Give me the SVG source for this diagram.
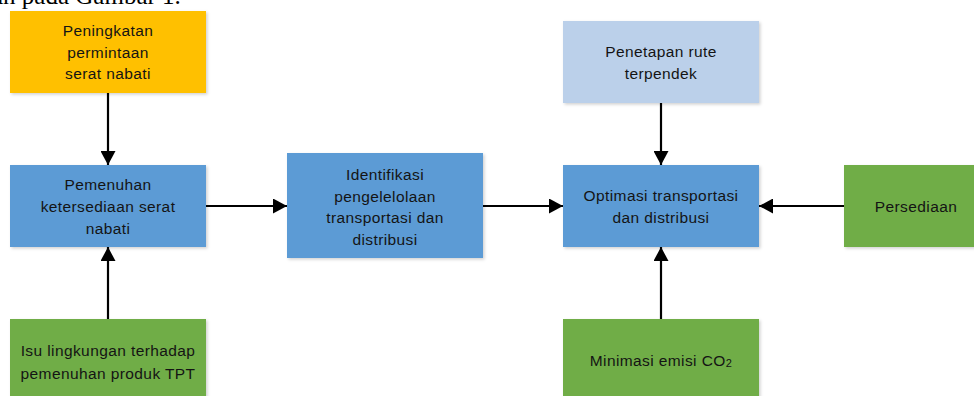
<svg xmlns="http://www.w3.org/2000/svg" width="974" height="396" viewBox="0 0 974 396">
<defs>
<marker id="ah" markerUnits="userSpaceOnUse" markerWidth="15" markerHeight="15" refX="14" refY="7.5" orient="auto">
<path d="M0,0 L14,7.5 L0,15 z" fill="#000"/>
</marker>
<filter id="sh" x="-5%" y="-5%" width="112%" height="115%">
<feDropShadow dx="1.5" dy="1.5" stdDeviation="1.5" flood-color="#000" flood-opacity="0.18"/>
</filter>
</defs>
<style>
.box{filter:url(#sh)}
.t{font-family:"Liberation Sans",Arial,sans-serif;font-size:15.5px;letter-spacing:0.4px;fill:#141414;text-anchor:middle}
.c{stroke:#000;stroke-width:2.2;fill:none;marker-end:url(#ah)}
.cap{font-family:"Liberation Serif","Times New Roman",serif;font-size:25px;fill:#000}
</style>
<rect width="974" height="396" fill="#fff"/>
<text class="cap" x="-8" y="4">an pada Gambar 1.</text>
<g id="n-peningkatan">
<rect class="box" x="10" y="11" width="196" height="82" fill="#FFC000"/>
<text class="t" x="108"><tspan x="108" y="36">Peningkatan</tspan><tspan x="108" y="57.5">permintaan</tspan><tspan x="108" y="79">serat nabati</tspan></text>
</g>
<g id="n-pemenuhan">
<rect class="box" x="10" y="165" width="196" height="82" fill="#5B9BD5"/>
<text class="t" x="108"><tspan x="108" y="190">Pemenuhan</tspan><tspan x="108" y="212">ketersediaan serat</tspan><tspan x="108" y="234">nabati</tspan></text>
</g>
<g id="n-isu">
<rect class="box" x="10" y="319" width="196" height="80" fill="#70AD47"/>
<text class="t" x="108"><tspan x="108" y="356">Isu lingkungan terhadap</tspan><tspan x="108" y="379">pemenuhan produk TPT</tspan></text>
</g>
<g id="n-identifikasi">
<rect class="box" x="287" y="153" width="196" height="105" fill="#5B9BD5"/>
<text class="t" x="385"><tspan x="385" y="180">Identifikasi</tspan><tspan x="385" y="201.5">pengelelolaan</tspan><tspan x="385" y="223">transportasi dan</tspan><tspan x="385" y="244.5">distribusi</tspan></text>
</g>
<g id="n-penetapan">
<rect class="box" x="563" y="21" width="196" height="82" fill="#BBD0EA"/>
<text class="t" x="661"><tspan x="661" y="57">Penetapan rute</tspan><tspan x="661" y="78.5">terpendek</tspan></text>
</g>
<g id="n-optimasi">
<rect class="box" x="563" y="165" width="196" height="82" fill="#5B9BD5"/>
<text class="t" x="661"><tspan x="661" y="201">Optimasi transportasi</tspan><tspan x="661" y="223">dan distribusi</tspan></text>
</g>
<g id="n-persediaan">
<rect class="box" x="844" y="165" width="140" height="82" fill="#70AD47"/>
<text class="t" x="916" y="212">Persediaan</text>
</g>
<g id="n-minimasi">
<rect class="box" x="563" y="319" width="196" height="80" fill="#70AD47"/>
<text class="t" x="661" y="366">Minimasi emisi CO<tspan font-size="11px" dy="1">2</tspan></text>
</g>
<g id="connectors">
<line class="c" x1="108" y1="93" x2="108" y2="165"/>
<line class="c" x1="108" y1="319" x2="108" y2="247"/>
<line class="c" x1="206" y1="206" x2="287" y2="206"/>
<line class="c" x1="483" y1="206" x2="563" y2="206"/>
<line class="c" x1="844" y1="206" x2="759" y2="206"/>
<line class="c" x1="661" y1="103" x2="661" y2="165"/>
<line class="c" x1="661" y1="319" x2="661" y2="247"/>
</g>
</svg>
